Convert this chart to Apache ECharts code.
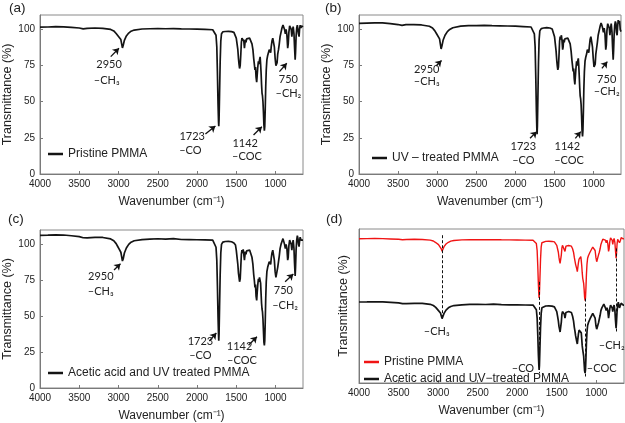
<!DOCTYPE html>
<html><head><meta charset="utf-8">
<script src="https://cdn.jsdelivr.net/npm/echarts@6/dist/echarts.min.js"></script>
<style>html,body{margin:0;padding:0;background:#fff}#c{width:625px;height:423px}</style>
</head><body><div id="c"></div>
<script>
// ---------- data ----------
const xTicks = [4000, 3500, 3000, 2500, 2000, 1500, 1000];
const yTicks = [0, 25, 50, 75, 100];

// (a) Pristine PMMA : [wavenumber cm-1, transmittance %]
const pristine = [
[4000,101.6],[3900,101.7],[3800,101.9],[3700,101.8],[3600,101.4],[3500,101.0],[3450,100.4],[3400,100.8],[3300,101.0],[3200,100.7],[3100,100.0],[3060,99.0],[3030,97.2],[3010,95.8],[2995,94.8],[2985,95.2],[2970,93.0],[2960,90.0],[2950,87.2],[2940,89.0],[2925,92.5],[2900,95.5],[2870,97.5],[2840,98.8],[2800,99.6],[2700,100.3],[2600,100.5],[2500,100.6],[2400,100.5],[2300,100.6],[2200,100.4],[2100,100.3],[2000,100.2],[1900,100.0],[1800,99.8],[1775,99.2],[1758,96],[1748,88],[1740,70],[1732,48],[1726,36],[1723,33],[1719,38],[1713,55],[1705,78],[1697,92],[1688,97],[1670,98.4],[1640,98.6],[1600,98.7],[1560,98.5],[1530,98.0],[1510,97],[1500,94],[1490,90],[1480,86],[1472,80],[1465,76],[1458,73],[1450,75],[1442,83],[1435,91],[1428,94],[1420,93],[1412,95],[1404,92],[1396,87],[1390,88],[1384,93],[1376,91],[1368,93.5],[1350,93.8],[1330,94],[1315,93],[1300,90],[1288,86],[1278,80],[1270,76],[1262,72],[1255,74],[1248,67],[1240,63.5],[1234,68],[1226,74],[1218,78],[1210,76],[1204,79],[1196,81],[1190,76],[1184,70],[1178,62],[1172,56],[1166,54],[1160,50],[1154,43],[1148,34],[1142,30],[1137,33],[1131,45],[1125,60],[1118,72],[1110,79],[1100,82],[1090,83],[1080,86],[1070,87],[1062,84],[1055,88],[1045,92],[1035,94],[1025,93],[1015,88],[1005,80],[995,75],[988,74],[980,77],[972,83],[962,86],[952,90],[942,95],[930,98],[918,101],[905,103],[895,102],[885,100],[875,97],[865,100],[855,96],[845,87],[838,90],[830,98],[820,102.5],[810,103],[800,100],[792,95],[785,99],[775,102],[765,97],[758,88],[750,79],[745,84],[738,95],[730,101],[722,103],[714,102],[707,97],[700,95],[694,100],[686,103],[676,101],[668,102.5],[660,101.5],[650,101.8]
];

// (b) UV-treated PMMA
const uvTreated = [
[4000,104.2],[3900,104.4],[3800,104.6],[3700,104.5],[3600,104.0],[3500,103.4],[3450,102.8],[3400,103.3],[3300,103.4],[3200,103.1],[3100,102.2],[3060,101.0],[3030,99.0],[3010,97.2],[2995,96.0],[2985,96.3],[2970,93.5],[2960,90.0],[2950,86.5],[2940,88.5],[2925,92.5],[2900,96.0],[2870,98.5],[2840,100.0],[2800,101.2],[2700,102.3],[2600,102.6],[2500,102.7],[2400,102.8],[2300,102.6],[2200,102.5],[2100,102.4],[2000,102.3],[1900,102.0],[1800,101.7],[1775,100.8],[1758,97],[1748,88],[1740,68],[1732,44],[1726,31],[1723,27.5],[1719,33],[1713,52],[1705,77],[1697,93],[1688,99],[1670,100.6],[1640,101],[1600,101.2],[1560,101],[1530,100.3],[1510,99],[1500,95],[1490,90],[1480,85],[1472,79],[1465,75],[1458,72],[1450,74],[1442,83],[1435,92],[1428,95],[1420,93],[1412,96],[1404,92],[1396,86],[1390,88],[1384,93],[1376,91],[1368,93.5],[1350,94],[1330,94],[1315,93],[1300,90],[1288,85],[1278,79],[1270,75],[1262,71],[1255,73],[1248,66],[1240,62],[1234,67],[1226,73],[1218,78],[1210,75],[1204,78],[1196,80],[1190,75],[1184,68],[1178,60],[1172,54],[1166,52],[1160,48],[1154,40],[1148,30],[1142,26],[1137,30],[1131,43],[1125,59],[1118,71],[1110,78],[1100,81],[1090,83],[1080,86],[1070,87],[1062,84],[1055,88],[1045,93],[1035,95],[1025,94],[1015,88],[1005,80],[995,74],[988,73],[980,76],[972,83],[962,87],[952,91],[942,96],[930,99],[918,102],[905,104.5],[895,103],[885,101],[875,98],[865,101],[855,97],[845,86],[838,89],[830,99],[820,104],[810,105],[800,101],[792,96],[785,100],[775,104],[765,98],[758,88],[750,79],[745,85],[738,96],[730,103],[722,105.5],[714,104],[707,98],[700,96],[694,101],[686,106.5],[676,104],[668,106],[660,100],[650,98.5]
];

// (c) Acetic acid and UV treated PMMA
const aceticUV = [
[4000,106.3],[3900,106.4],[3800,106.6],[3700,106.5],[3600,106.0],[3500,105.4],[3450,104.6],[3400,104.5],[3300,104.9],[3200,104.8],[3100,103.8],[3060,102.5],[3030,100.5],[3010,98.5],[2995,97.0],[2985,97.3],[2970,94.5],[2960,91.5],[2950,88.4],[2940,90.0],[2925,94.0],[2900,97.5],[2870,100.0],[2840,101.5],[2800,102.5],[2700,103.3],[2600,103.7],[2500,103.9],[2400,103.6],[2300,104.0],[2200,103.4],[2100,103.3],[2000,103.2],[1900,103.1],[1800,103.0],[1775,102.2],[1758,98],[1748,89],[1740,71],[1732,49],[1726,37],[1723,33],[1719,38],[1713,56],[1705,79],[1697,94],[1688,100],[1670,101.6],[1640,102],[1600,102.1],[1560,101.8],[1530,101],[1510,99.5],[1500,96],[1490,91],[1480,86],[1472,80],[1465,77],[1458,74],[1450,76],[1442,85],[1435,93],[1428,96],[1420,94],[1412,96.5],[1404,93],[1396,89],[1390,90],[1384,95],[1376,93],[1368,95.5],[1350,96],[1330,96],[1315,95],[1300,91],[1288,86],[1278,79],[1270,75],[1262,70],[1255,72],[1248,64],[1240,61],[1234,66],[1226,72],[1218,76],[1210,74],[1204,77],[1196,77.5],[1190,73],[1184,66],[1178,59],[1172,55],[1166,53],[1160,48],[1154,40],[1148,32],[1142,29.7],[1137,33],[1131,46],[1125,62],[1118,74],[1110,81],[1100,84],[1090,85],[1080,88],[1070,89],[1062,86],[1055,90],[1045,94],[1035,96],[1025,95],[1015,89],[1005,81],[995,77],[988,76],[980,78],[972,84],[962,88],[952,92],[942,97],[930,100],[918,102],[905,104],[895,103],[885,100],[875,97],[865,100],[855,97],[845,89],[838,91],[830,99],[820,103],[810,103.7],[800,100],[792,96],[785,100],[775,103],[765,97],[758,87],[750,78],[745,84],[738,96],[730,103],[722,106],[714,104],[707,100],[700,98.4],[694,102],[686,105],[676,103],[668,104],[660,103],[650,103]
];

const peakWavenumbers = [2950, 1723, 1142, 750];
const peakGroups = ['–CH₃', '–CO', '–COC', '–CH₂'];

// ---------- styling / layout ----------
const SANS = '"Liberation Sans", Arial, sans-serif';
const ANN = 'Lato, "Open Sans", sans-serif';
const AX = '#7a7a7a';

const grids = [
  {left: 39, top: 15, width: 264, height: 159},
  {left: 359, top: 15, width: 262, height: 159},
  {left: 39, top: 230, width: 264, height: 158},
  {left: 359, top: 229, width: 265, height: 154}
].map(g => Object.assign(g, {show: true, borderColor: '#8a8a8a', borderWidth: 1, containLabel: false}));

function xAxis(i) {
  return {
    type: 'value', gridIndex: i, inverse: true, min: 650, max: 4000,
    axisLine: {show: true, onZero: false, lineStyle: {color: AX, width: 1}},
    axisTick: {show: true, inside: true, length: 3, customValues: xTicks, lineStyle: {color: AX}},
    axisLabel: {customValues: xTicks, formatter: v => String(v), fontSize: 10, color: '#222', fontFamily: SANS, margin: 5},
    splitLine: {show: false},
    name: 'Wavenumber (cm⁻¹)', nameLocation: 'middle', nameGap: 22,
    nameTextStyle: {fontSize: 12, color: '#222', fontFamily: SANS}
  };
}
function yAxis(i, gap) {
  return {
    type: 'value', gridIndex: i, min: 0, max: 110,
    axisLine: {show: true, onZero: false, lineStyle: {color: AX, width: 1}},
    axisTick: {show: true, inside: true, length: 3, customValues: yTicks, lineStyle: {color: AX}},
    axisLabel: {customValues: yTicks, formatter: v => String(v), fontSize: 10, color: '#222', fontFamily: SANS, margin: 5},
    splitLine: {show: false},
    name: 'Transmittance (%)', nameLocation: 'middle', nameGap: gap,
    nameTextStyle: {fontSize: 12.5, color: '#222', fontFamily: SANS}
  };
}

function labels(items) {
  return {
    symbol: 'circle', symbolSize: 0, silent: true, animation: false,
    label: {show: true, position: 'inside', formatter: '{b}', color: '#222', fontFamily: ANN, fontSize: 11},
    data: items.map(t => ({name: t[0], coord: [t[1], t[2]]}))
  };
}
function arrows(items) {
  return {
    symbol: ['none', 'arrow'], symbolSize: 6, silent: true, animation: false,
    label: {show: false}, emphasis: {disabled: true},
    lineStyle: {color: '#111', width: 1.3, type: 'solid'},
    data: items.map(a => [{coord: a[0]}, {coord: a[1]}])
  };
}

const lineBase = {type: 'line', showSymbol: false, symbol: 'none', animation: false, silent: true,
  lineStyle: {width: 1.7, color: '#141414'}, itemStyle: {color: '#141414'}};

const series = [
  Object.assign({}, lineBase, {
    name: 'Pristine PMMA', xAxisIndex: 0, yAxisIndex: 0, data: pristine,
    markPoint: labels([['2950',3121,76.1],[peakGroups[0],3150,65],['1723',2062,25.8],[peakGroups[1],2084,16.1],['1142',1386,21.2],[peakGroups[2],1364,12],['750',836,65.7],[peakGroups[3],836,55.8]]),
    markLine: arrows([[[3099,81.2],[2994,87]],[[1893,27.7],[1766,33.2]],[[1280,27],[1174,32.7]],[[950,70.8],[857,76.6]]])
  }),
  Object.assign({}, lineBase, {
    name: 'UV – treated PMMA', xAxisIndex: 1, yAxisIndex: 1, data: uvTreated,
    markPoint: labels([['2950',3134,72],[peakGroups[0],3134,63.9],['1723',1899,19.4],[peakGroups[1],1899,9.2],['1142',1336,19.4],[peakGroups[2],1315,9.2],['750',833,65.7],[peakGroups[3],833,57]]),
    markLine: arrows([[[3015,74.7],[2945,78.5]],[[1813,24.7],[1728,29.3]],[[1234,24.7],[1165,29.3]],[[894,73.1],[825,77.7]]])
  }),
  Object.assign({}, lineBase, {
    name: 'Acetic acid and UV treated PMMA', xAxisIndex: 2, yAxisIndex: 2, data: aceticUV,
    markPoint: labels([['2950',3226,77.5],[peakGroups[0],3226,67.1],['1723',1957,32.7],[peakGroups[1],1957,22.5],['1142',1458,29.2],[peakGroups[2],1428,19],['750',900,68.2],[peakGroups[3],878,57.3]]),
    markLine: arrows([[[3057,82.1],[2975,86.5]],[[1843,32.7],[1754,38.3]],[[1344,29.8],[1237,35.7]],[[878,74],[773,79.3]]])
  }),
  Object.assign({}, lineBase, {
    name: 'Pristine PMMA', xAxisIndex: 3, yAxisIndex: 3, data: pristine,
    lineStyle: {width: 1.4, color: '#f01414'}, itemStyle: {color: '#f01414'}
  }),
  Object.assign({}, lineBase, {
    name: 'Acetic acid and UV−treated PMMA', xAxisIndex: 3, yAxisIndex: 4, data: aceticUV,
    z: 3,
    markPoint: labels([[peakGroups[0],3018,74.3],[peakGroups[1],1927,35],[peakGroups[2],932,35.2],[peakGroups[3],805,60]]),
    markLine: {
      symbol: ['none', 'none'], silent: true, animation: false, label: {show: false}, emphasis: {disabled: true},
      lineStyle: {color: '#111', width: 1, type: [3, 2]},
      data: [[178.3, 88], [128, 29.5], [110, 26], [164, 74]].map((r, i) => [{coord: [peakWavenumbers[i], r[0]]}, {coord: [peakWavenumbers[i], r[1]]}])
    }
  })
];

const xAxes = [0, 1, 2, 3].map(xAxis);
const yAxes = [yAxis(0, 26), yAxis(1, 24), yAxis(2, 26),
  Object.assign(yAxis(3, 9), {min: -65.5, max: 112.9, axisLabel: {show: false}, axisTick: {show: false}}),
  {type: 'value', gridIndex: 3, min: 19, max: 185, show: false}
];

const legendText = {fontSize: 12, color: '#222', fontFamily: SANS};
const legendBase = {icon: 'rect', itemWidth: 15, itemHeight: 2.5, textStyle: legendText, selectedMode: false, padding: 0};

const option = {
  backgroundColor: '#fff',
  animation: false,
  textStyle: {fontFamily: SANS},
  title: [
    {text: '(a)', left: 9, top: 1},
    {text: '(b)', left: 325, top: 1},
    {text: '(c)', left: 8, top: 212},
    {text: '(d)', left: 326, top: 212}
  ].map(t => Object.assign(t, {padding: 0, textStyle: {fontSize: 13.5, fontWeight: 'normal', color: '#222', fontFamily: SANS}})),
  grid: grids,
  xAxis: xAxes,
  yAxis: yAxes,
  legend: [
    Object.assign({}, legendBase, {left: 48, top: 148, data: ['Pristine PMMA']}),
    Object.assign({}, legendBase, {left: 372, top: 152, data: ['UV – treated PMMA']}),
    Object.assign({}, legendBase, {left: 48, top: 367, data: ['Acetic acid and UV treated PMMA']}),
    Object.assign({}, legendBase, {left: 364, top: 356, orient: 'vertical', itemGap: 5, data: [
      {name: 'Pristine PMMA', itemStyle: {color: '#f01414'}},
      {name: 'Acetic acid and UV−treated PMMA', itemStyle: {color: '#141414'}}
    ]})
  ],
  series: series
};

const chart = echarts.init(document.getElementById('c'), null, {renderer: 'canvas'});
chart.setOption(option);
</script></body></html>
